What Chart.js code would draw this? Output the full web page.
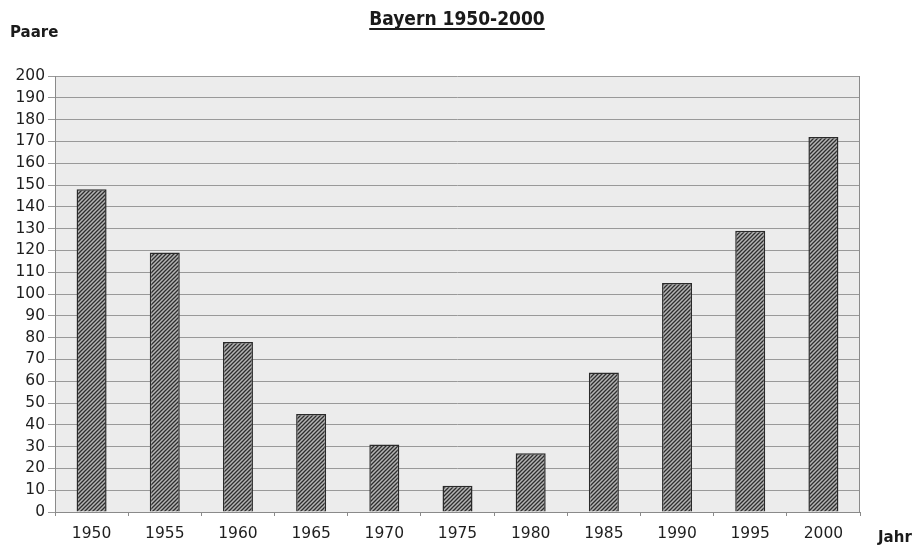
<!DOCTYPE html>
<html>
<head>
<meta charset="utf-8">
<script src="https://cdn.jsdelivr.net/npm/chart.js@4/dist/chart.umd.min.js"></script>
<style>
  html, body { margin: 0; padding: 0; background: #fff; }
  #wrap { width: 918px; height: 546px; }
</style>
</head>
<body>
<div id="wrap"><canvas id="brutChart" width="918" height="546"></canvas></div>
<script>
// Daten: Brutpaare in Bayern
const jahre = ['1950', '1955', '1960', '1965', '1970', '1975', '1980', '1985', '1990', '1995', '2000'];
const paare = [148, 119, 78, 45, 31, 12, 27, 64, 105, 129, 172];
const yTicks = [0, 10, 20, 30, 40, 50, 60, 70, 80, 90, 100, 110, 120, 130, 140, 150, 160, 170, 180, 190, 200];

// Schraffur fuer die Balken
function makeHatch() {
  const c = document.createElement('canvas');
  c.width = 4; c.height = 4;
  const g = c.getContext('2d');
  g.fillStyle = '#b4b4b4';
  g.fillRect(0, 0, 4, 4);
  g.strokeStyle = '#2e2e2e';
  g.lineWidth = 1.3;
  g.beginPath();
  g.moveTo(-1, 5); g.lineTo(5, -1);
  g.moveTo(-1, 1); g.lineTo(1, -1);
  g.moveTo(3, 5); g.lineTo(5, 3);
  g.stroke();
  return g.createPattern(c, 'repeat');
}

const plotBg = {
  id: 'plotBg',
  beforeDraw(chart) {
    const { ctx, chartArea: a } = chart;
    ctx.save();
    ctx.fillStyle = '#ececec';
    ctx.fillRect(a.left, a.top, a.right - a.left, a.bottom - a.top);
    ctx.restore();
  },
  afterDraw(chart) {
    const { ctx, chartArea: a } = chart;
    ctx.save();
    // Rahmen links/rechts
    ctx.strokeStyle = '#8a8a8a';
    ctx.lineWidth = 1;
    ctx.beginPath();
    ctx.moveTo(a.left + 0.5, a.top); ctx.lineTo(a.left + 0.5, a.bottom);
    ctx.moveTo(a.right - 0.5, a.top); ctx.lineTo(a.right - 0.5, a.bottom);
    ctx.stroke();
    // Titel
    ctx.fillStyle = '#1a1a1a';
    ctx.font = 'bold 19px "DejaVu Sans Condensed", "Liberation Sans", sans-serif';
    ctx.textAlign = 'center';
    ctx.textBaseline = 'alphabetic';
    const t = 'Bayern 1950-2000';
    ctx.fillText(t, 457, 25);
    const w = ctx.measureText(t).width;
    ctx.fillRect(457 - w / 2, 28, w, 2);
    // Achsenbeschriftungen
    ctx.font = 'bold 15px "DejaVu Sans", sans-serif';
    ctx.textAlign = 'left';
    ctx.fillText('Paare', 10, 37);
    ctx.fillText('Jahr', 878, 542);
    ctx.restore();
  }
};

const ctx = document.getElementById('brutChart').getContext('2d');
new Chart(ctx, {
  type: 'bar',
  data: {
    labels: jahre,
    datasets: [{
      data: paare,
      backgroundColor: makeHatch(),
      borderColor: '#2a2a2a',
      borderWidth: 1.5,
      categoryPercentage: 1,
      barPercentage: 0.41
    }]
  },
  options: {
    responsive: false,
    animation: false,
    layout: { padding: { left: 0, top: 76, right: 58, bottom: 0 } },
    plugins: {
      legend: { display: false },
      tooltip: { enabled: false }
    },
    scales: {
      x: {
        grid: {
          offset: true,
          drawOnChartArea: false,
          drawTicks: true,
          tickLength: 4,
          color: '#8a8a8a'
        },
        border: { color: '#8a8a8a', width: 1 },
        ticks: {
          color: '#1e1e1e',
          font: { family: '"DejaVu Sans", sans-serif', size: 15.5 },
          padding: 9,
          maxRotation: 0
        },
        afterFit(scale) { scale.height = 34; }
      },
      y: {
        min: 0,
        max: 200,
        afterBuildTicks(scale) { scale.ticks = yTicks.map(v => ({ value: v })); },
        grid: {
          color: '#999',
          lineWidth: 1,
          tickLength: 7
        },
        border: { display: false },
        ticks: {
          color: '#1e1e1e',
          font: { family: '"DejaVu Sans", sans-serif', size: 15.5 },
          padding: 3
        },
        afterFit(scale) { scale.width = 55; }
      }
    }
  },
  plugins: [plotBg]
});
</script>
</body>
</html>
